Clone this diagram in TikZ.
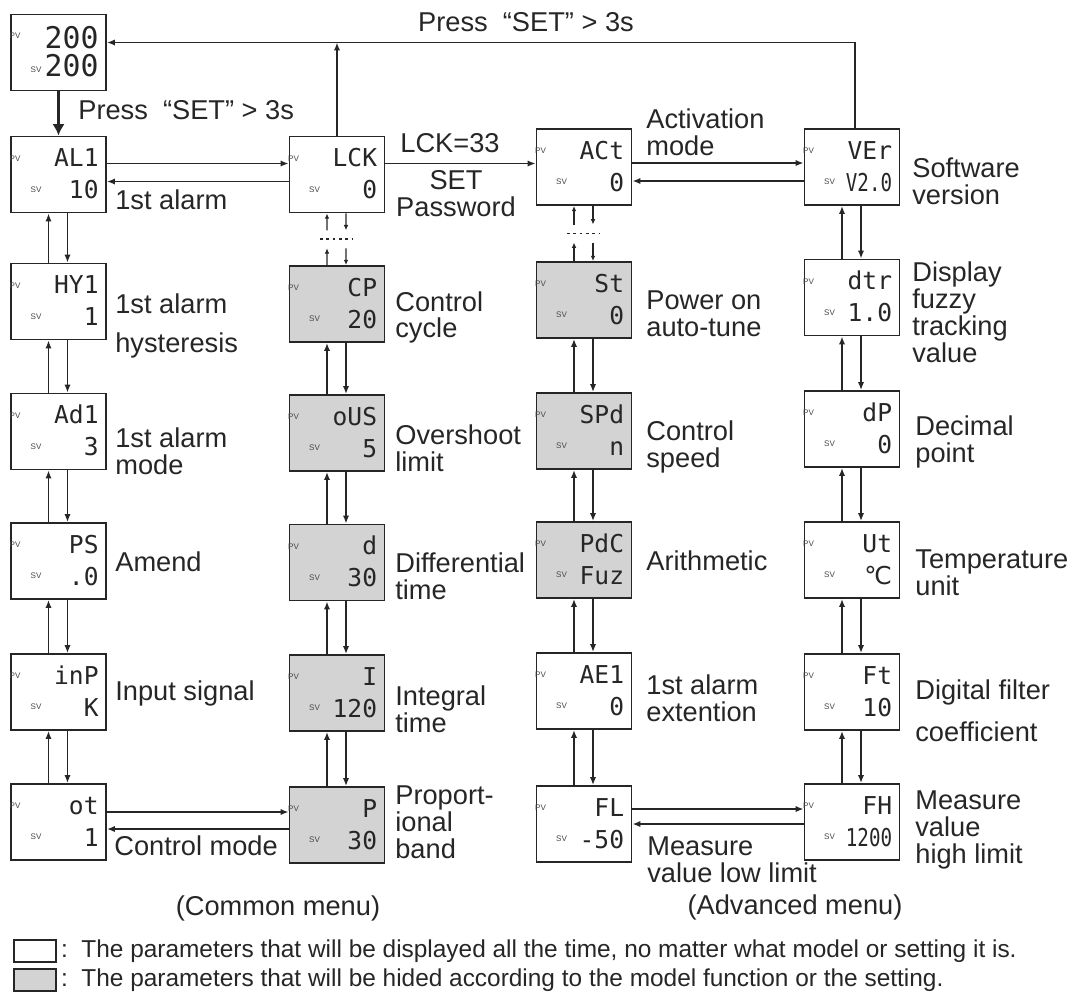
\documentclass[tikz,border=0pt]{standalone}
\usepackage{fontspec}
\setmainfont{Liberation Sans}
\newfontfamily\segfont{DejaVu Sans Mono}
\newfontfamily\segnarrow{DejaVu Sans Mono}[FakeStretch=0.78]
\newfontfamily\symfont{DejaVu Sans}
\usetikzlibrary{arrows.meta, positioning, calc}
\definecolor{ink}{HTML}{262626}
\definecolor{hidegray}{HTML}{D3D3D3}
% one controller display: name, centre, PV text, SV text, box style
\newcommand{\lcd}[5]{%
	\node[#5] (#1) at (#2) {};
	\node[tag] (#1pv) at ([shift={(5,23)}]#1.north west) {PV};
	\node[tag] (#1sv) at ([shift={(26,54)}]#1.north west) {SV};
	\node[seg, anchor=base east] (#1top) at ([shift={(-8,31)}]#1.north east) {#3};
	\node[seg, anchor=base east] (#1bot) at ([shift={(-8,63)}]#1.north east) {#4};
}
% the two arrows between a display and the one below it
\newcommand{\updown}[2]{%
	\draw[arr] ([shift={(-10,0)}]#2.north) -- ([shift={(-10,0)}]#1.south);
	\draw[arr] ([shift={(9,0)}]#1.south) -- ([shift={(9,0)}]#2.north);
}
\begin{document}
\begin{tikzpicture}[
	x=0.02cm, y=-0.02cm,
	shown/.style={rectangle, draw=ink, line width=1.1pt, fill=white,
		minimum width=1.9cm, minimum height=1.52cm, inner sep=0pt},
	hidden/.style={shown, fill=hidegray},
	tag/.style={font=\fontsize{4.6}{4.6}\selectfont, text=ink!85, inner sep=0pt},
	seg/.style={font=\segfont\fontsize{14}{14}\selectfont, text=ink, inner sep=0pt},
	lbl/.style={font=\fontsize{15.5}{15.3}\selectfont, text=ink, align=left,
		anchor=west, inner sep=0pt},
	keytxt/.style={font=\fontsize{13.9}{13.9}\selectfont, text=ink, anchor=west, inner sep=0pt},
	arr/.style={draw=ink, line width=1pt, -{Latex[length=4.5pt, width=3.6pt]}},
	tiny/.style={draw=ink, line width=0.6pt, -{Latex[length=3pt, width=2.6pt]}},
	]
	\useasboundingbox (0,0) rectangle (1075,992);
	
	% home display
	\node[shown] (home) at (58.5,52.5) {};
	\node[tag] (homepv) at ([shift={(5,22)}]home.north west) {PV};
	\node[tag] (homesv) at ([shift={(26,56)}]home.north west) {SV};
	\node[seg, font=\segfont\fontsize{17}{17}\selectfont, anchor=base east] (hometop) at ([shift={(-8,35)}]home.north east) {200};
	\node[seg, font=\segfont\fontsize{17}{17}\selectfont, anchor=base east] (homebot) at ([shift={(-8,63)}]home.north east) {200};
	
	% common menu
	\lcd{AL1}{58.5,174.5}{AL1}{10}{shown}
	\lcd{HY1}{58.5,301.5}{HY1}{1}{shown}
	\lcd{Ad1}{58.5,431.5}{Ad1}{3}{shown}
	\lcd{PS}{58.5,561}{PS}{.0}{shown}
	\lcd{inP}{58.5,692}{inP}{K}{shown}
	\lcd{ot}{58.5,822}{ot}{1}{shown}
	
	\lcd{LCK}{337,174.5}{LCK}{0}{shown}
	\lcd{CP}{337,304}{CP}{20}{hidden}
	\lcd{oUS}{337,433}{oUS}{5}{hidden}
	\lcd{dT}{337,562.5}{d}{30}{hidden}
	\lcd{iT}{337,693}{I}{120}{hidden}
	\lcd{pB}{337,825}{P}{30}{hidden}
	
	% advanced menu
	\lcd{ACt}{584,167}{ACt}{0}{shown}
	\lcd{St}{584,300}{St}{0}{hidden}
	\lcd{SPd}{584,431}{SPd}{n}{hidden}
	\lcd{PdC}{584,560}{PdC}{Fuz}{hidden}
	\lcd{AE1}{584,691}{AE1}{0}{shown}
	\lcd{FL}{584,824}{FL}{-50}{shown}
	
	\lcd{VEr}{852,167}{VEr}{\segnarrow V2.0}{shown}
	\lcd{dtr}{852,297.5}{dtr}{1.0}{shown}
	\lcd{dP}{852,429}{dP}{0}{shown}
	\lcd{Ut}{852,560}{Ut}{\symfont ℃}{shown}
	\lcd{Ft}{852,692}{Ft}{10}{shown}
	\lcd{FH}{852,822}{FH}{\segnarrow 1200}{shown}
	
	% entering and leaving the menus
	\draw[draw=ink, line width=1.5pt, -{Latex[length=6.5pt, width=7pt]}] (home.south) -- (AL1.north);
	\coordinate (back) at ([shift={(0,-10)}]home.east);
	\draw[arr] ([shift={(3,0)}]VEr.north) |- (back);
	\draw[arr] (LCK.north) -- (LCK.north |- back);
	
	% sideways links
	\draw[arr] ([shift={(0,-11)}]AL1.east) -- ([shift={(0,-11)}]AL1.east -| LCK.west);
	\draw[arr] ([shift={(0,7)}]LCK.west) -- ([shift={(0,7)}]LCK.west -| AL1.east);
	\draw[arr] ([shift={(0,-11)}]LCK.east) -- ([shift={(0,-11)}]LCK.east -| ACt.west);
	\draw[arr] ([shift={(0,-4)}]ACt.east) -- ([shift={(0,-4)}]ACt.east -| VEr.west);
	\draw[arr] ([shift={(0,14)}]VEr.west) -- ([shift={(0,14)}]VEr.west -| ACt.east);
	\draw[arr] ([shift={(0,-10)}]ot.east) -- ([shift={(0,-10)}]ot.east -| pB.west);
	\draw[arr] ([shift={(0,4)}]pB.west) -- ([shift={(0,4)}]pB.west -| ot.east);
	\draw[arr] ([shift={(0,-15)}]FL.east) -- ([shift={(0,-15)}]FL.east -| FH.west);
	\draw[arr] ([shift={(0,2)}]FH.west) -- ([shift={(0,2)}]FH.west -| FL.east);
	
	% up and down through each column
	\updown{AL1}{HY1}
	\updown{HY1}{Ad1}
	\updown{Ad1}{PS}
	\updown{PS}{inP}
	\updown{inP}{ot}
	\updown{CP}{oUS}
	\updown{oUS}{dT}
	\updown{dT}{iT}
	\updown{iT}{pB}
	\updown{St}{SPd}
	\updown{SPd}{PdC}
	\updown{PdC}{AE1}
	\updown{AE1}{FL}
	\updown{VEr}{dtr}
	\updown{dtr}{dP}
	\updown{dP}{Ut}
	\updown{Ut}{Ft}
	\updown{Ft}{FH}
	
	% broken links under LCK and ACt
	\coordinate (gapL) at ($(LCK.south)!0.5!(CP.north)$);
	\coordinate (gapA) at ($(ACt.south)!0.5!(St.north)$);
	\draw[tiny] ([shift={(-10,-9)}]gapL) -- ([shift={(-10,0)}]LCK.south);
	\draw[tiny] ([shift={(9,0)}]LCK.south) -- ([shift={(9,-9)}]gapL);
	\draw[tiny] ([shift={(-10,0)}]CP.north) -- ([shift={(-10,9)}]gapL);
	\draw[tiny] ([shift={(9,9)}]gapL) -- ([shift={(9,0)}]CP.north);
	\draw[draw=ink, line width=0.9pt, dash pattern=on 1.6pt off 2pt] ([shift={(-17,0)}]gapL) -- ([shift={(16,0)}]gapL);
	\draw[tiny] ([shift={(-10,-9)}]gapA) -- ([shift={(-10,0)}]ACt.south);
	\draw[tiny] ([shift={(9,0)}]ACt.south) -- ([shift={(9,-9)}]gapA);
	\draw[tiny] ([shift={(-10,0)}]St.north) -- ([shift={(-10,9)}]gapA);
	\draw[tiny] ([shift={(9,9)}]gapA) -- ([shift={(9,0)}]St.north);
	\draw[draw=ink, line width=0.9pt, dash pattern=on 1.6pt off 2pt] ([shift={(-17,0)}]gapA) -- ([shift={(16,0)}]gapA);
	
	% texts
	\node[lbl, anchor=center] (pressTop) at (526,22) {Press\ \ “SET” > 3s};
	\node[lbl] (pressIn) at (78,110) {Press\ \ “SET” > 3s};
	\node[lbl, anchor=center] (lck33) at (450,143) {LCK=33};
	\node[lbl, anchor=center, align=center] (passwd) at (456,194) {SET\\Password};
	
	\node[lbl] (tAL1) at (115,200) {1st alarm};
	\node[lbl] (tHY1) at (115,304) {1st alarm};
	\node[lbl] (tHY1b) at (115,345) {hysteresis};
	\node[lbl] (tAd1) at (115,451.5) {1st alarm\\mode};
	\node[lbl] (tPS) at (115,562) {Amend};
	\node[lbl] (tinP) at (115,693) {Input signal};
	\node[lbl] (tot) at (114,846) {Control mode};
	
	\node[lbl] (tCP) at (395,317.5) {Control\\cycle};
	\node[lbl] (toUS) at (395,448.5) {Overshoot\\limit};
	\node[lbl] (tdT) at (395,576) {Differential\\time};
	\node[lbl] (tiT) at (395,709.5) {Integral\\time};
	\node[lbl] (tpB) at (395,822.5) {Proport-\\ional\\band};
	
	\node[lbl] (tACt) at (646,132.5) {Activation\\mode};
	\node[lbl] (tSt) at (646,314) {Power on\\auto-tune};
	\node[lbl] (tSPd) at (646,447) {Control\\speed};
	\node[lbl] (tPdC) at (646,561) {Arithmetic};
	\node[lbl] (tAE1) at (646,698) {1st alarm\\extention};
	\node[lbl] (tFL) at (647,859.5) {Measure\\value low limit};
	
	\node[lbl] (tVEr) at (912,181) {Software\\version};
	\node[lbl] (tdtr) at (912,312) {Display\\fuzzy\\tracking\\value};
	\node[lbl] (tdP) at (915,442) {Decimal\\point};
	\node[lbl] (tUt) at (915,572.5) {Temperature\\unit};
	\node[lbl] (tFt) at (915,692) {Digital filter};
	\node[lbl] (tFtb) at (915,732) {coefficient};
	\node[lbl] (tFH) at (915,830) {Measure\\value\\high limit};
	
	\node[lbl, anchor=center] (common) at (278,908) {(Common menu)};
	\node[lbl, anchor=center] (advanced) at (795,907) {(Advanced menu)};
	
	% key
	\node[shown, line width=0.8pt, minimum width=0.84cm, minimum height=0.44cm] (keyShown) at (35,951) {};
	\node[hidden, line width=0.8pt, minimum width=0.84cm, minimum height=0.44cm] (keyHidden) at (35,980) {};
	\node[keytxt] (keyShownTxt) at ([shift={(4,0)}]keyShown.east) {:\ \ The parameters that will be displayed all the time, no matter what model or setting it is.};
	\node[keytxt] (keyHiddenTxt) at ([shift={(4,0)}]keyHidden.east) {:\ \ The parameters that will be hided according to the model function or the setting.};
\end{tikzpicture}
\end{document}
